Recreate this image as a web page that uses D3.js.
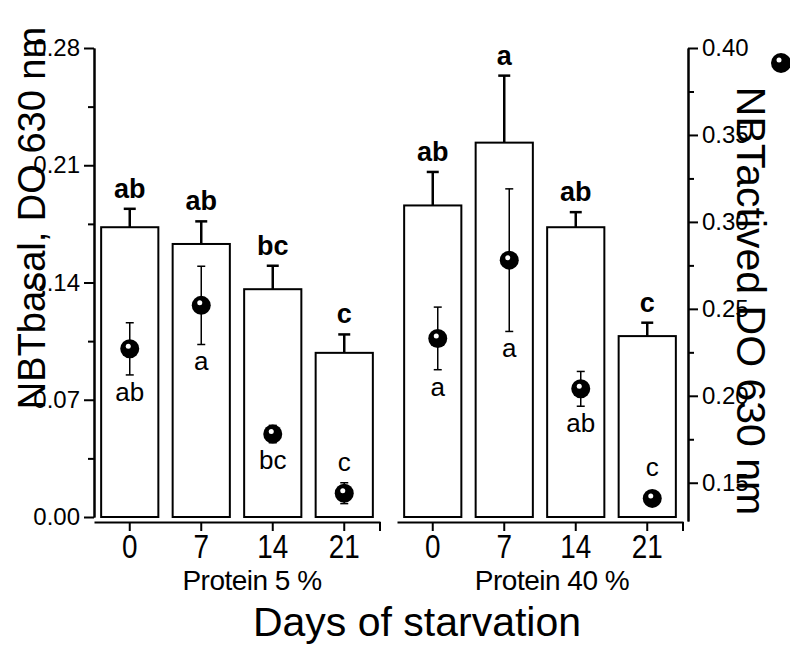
<!DOCTYPE html>
<html>
<head>
<meta charset="utf-8">
<script src="https://cdn.jsdelivr.net/npm/d3@7"></script>
<style>
  body { margin: 0; background: #fff; }
  svg text { font-family: "Liberation Sans", Arial, sans-serif; fill: #000; }
  .axis path, .axis line { stroke: #000; stroke-width: 2; }
</style>
</head>
<body>
<div id="chart"></div>
<script>
// data
let days = ['0', '7', '14', '21'];
let groups = ['Protein 5 %', 'Protein 40 %'];

// bars: NBT basal (left axis)
let basal5 = [0.173, 0.163, 0.136, 0.098];
let basal5Err = [0.011, 0.0135, 0.014, 0.011];
let basal40 = [0.186, 0.2235, 0.173, 0.108];
let basal40Err = [0.020, 0.040, 0.009, 0.008];
let basalLetters5 = ['ab', 'ab', 'bc', 'c'];
let basalLetters40 = ['ab', 'a', 'ab', 'c'];

// dots: NBT activated (right axis)
let active5 = [0.227, 0.252, 0.178, 0.144];
let active5Err = [0.015, 0.0225, 0.005, 0.006];
let active40 = [0.233, 0.278, 0.204, 0.141];
let active40Err = [0.018, 0.041, 0.010, 0.003];
let activeLetters5 = ['ab', 'a', 'bc', 'c'];
let activeLetters40 = ['a', 'a', 'ab', 'c'];
let letterSide = ['below', 'below', 'below', 'above'];

let leftTicks = [0, 0.07, 0.14, 0.21, 0.28];
let leftMinor = [0.035, 0.105, 0.175, 0.245];
let rightTicks = [0.15, 0.20, 0.25, 0.30, 0.35, 0.40];
let rightMinor = [0.175, 0.225, 0.275, 0.325, 0.375];

let panels = [
    { name: groups[0], range: [94, 380], bars: basal5, barErr: basal5Err, barLet: basalLetters5,
      dots: active5, dotErr: active5Err, dotLet: activeLetters5, dotShift: 0, labelShift: 15 },
    { name: groups[1], range: [397, 683], bars: basal40, barErr: basal40Err, barLet: basalLetters40,
      dots: active40, dotErr: active40Err, dotLet: activeLetters40, dotShift: 5, labelShift: 12 }
];

let svg = d3.select('#chart')
    .append('svg')
        .attr('width', 790)
        .attr('height', 652);

let yL = d3.scaleLinear().domain([0, 0.28]).range([517, 48]);
let yR = d3.scaleLinear().domain([0.128, 0.40]).range([521, 48]);

// left axis
svg.append('g')
    .attr('class', 'axis')
    .attr('transform', translate(94, 0))
    .call(d3.axisLeft(yL).tickValues(leftMinor).tickSize(6).tickSizeOuter(0).tickFormat(''));
let leftAxis = svg.append('g')
    .attr('class', 'axis')
    .attr('transform', translate(94, 0))
    .call(d3.axisLeft(yL).tickValues(leftTicks).tickSize(10).tickSizeOuter(0).tickPadding(4)
        .tickFormat(d3.format('.2f')));
leftAxis.selectAll('text').style('font-size', '24px');

// right axis
svg.append('g')
    .attr('class', 'axis')
    .attr('transform', translate(688, 0))
    .call(d3.axisRight(yR).tickValues(rightMinor).tickSize(6).tickSizeOuter(0).tickFormat(''));
let rightAxis = svg.append('g')
    .attr('class', 'axis')
    .attr('transform', translate(688, 0))
    .call(d3.axisRight(yR).tickValues(rightTicks).tickSize(10).tickSizeOuter(0).tickPadding(4)
        .tickFormat(d3.format('.2f')));
rightAxis.selectAll('text').style('font-size', '24px');

panels.forEach((p) => {
    let x = d3.scaleBand().domain(days).range(p.range).paddingInner(0.2).paddingOuter(0.1);
    let g = svg.append('g');

    // x axis
    let xAxis = g.append('g')
        .attr('class', 'axis')
        .attr('transform', translate(0, 522))
        .call(d3.axisBottom(x).tickSize(9).tickSizeOuter(0).tickPadding(3));
    xAxis.selectAll('text')
        .style('font-size', '34px')
        .attr('transform', 'scale(0.82,1)');
    xAxis.append('line')
        .attr('x1', x.range()[1]).attr('x2', x.range()[1])
        .attr('y1', 0).attr('y2', 9);

    let bw = x.bandwidth();
    let cx = (i) => x(days[i]) + bw / 2;

    // bar error bars (upper only)
    p.bars.forEach((v, i) => {
        g.append('line')
            .attr('x1', cx(i)).attr('x2', cx(i))
            .attr('y1', yL(v)).attr('y2', yL(v + p.barErr[i]))
            .attr('stroke', '#000').attr('stroke-width', 2.5);
        g.append('line')
            .attr('x1', cx(i) - 6).attr('x2', cx(i) + 6)
            .attr('y1', yL(v + p.barErr[i])).attr('y2', yL(v + p.barErr[i]))
            .attr('stroke', '#000').attr('stroke-width', 2.5);
    });

    // bars
    g.selectAll('.bar')
        .data(p.bars)
        .enter()
        .append('rect')
            .attr('class', 'bar')
            .attr('x', (d, i) => x(days[i]))
            .attr('y', (d) => yL(d))
            .attr('width', bw)
            .attr('height', (d) => yL(0) - yL(d))
            .attr('fill', '#fff')
            .attr('stroke', '#000')
            .attr('stroke-width', 2);

    // bar letters
    g.selectAll('.barlet')
        .data(p.barLet)
        .enter()
        .append('text')
            .attr('x', (d, i) => cx(i))
            .attr('y', (d, i) => yL(p.bars[i] + p.barErr[i]) - 11)
            .attr('text-anchor', 'middle')
            .style('font-size', '27px')
            .style('font-weight', 'bold')
            .text((d) => d);

    // dots with error bars
    p.dots.forEach((v, i) => {
        let dx = cx(i) + p.dotShift;
        let e = p.dotErr[i];
        g.append('line')
            .attr('x1', dx).attr('x2', dx)
            .attr('y1', yR(v + e)).attr('y2', yR(v - e))
            .attr('stroke', '#000').attr('stroke-width', 1.5);
        [v + e, v - e].forEach((w) => {
            g.append('line')
                .attr('x1', dx - 4).attr('x2', dx + 4)
                .attr('y1', yR(w)).attr('y2', yR(w))
                .attr('stroke', '#000').attr('stroke-width', 1.5);
        });
        g.append('circle')
            .attr('cx', dx).attr('cy', yR(v)).attr('r', 9.5)
            .attr('fill', '#000');
        g.append('circle')
            .attr('cx', dx - 1.5).attr('cy', yR(v) - 2.5).attr('r', 2.5)
            .attr('fill', '#fff');
        g.append('text')
            .attr('x', dx)
            .attr('y', letterSide[i] == 'below' ? yR(v - e) + 26 : yR(v) - 22)
            .attr('text-anchor', 'middle')
            .style('font-size', '26px')
            .text(p.dotLet[i]);
    });

    // group label
    g.append('text')
        .attr('x', (p.range[0] + p.range[1]) / 2 + p.labelShift)
        .attr('y', 590)
        .attr('text-anchor', 'middle')
        .style('font-size', '28px')
        .style('letter-spacing', '-0.5px')
        .text(p.name);
});

// x axis title
svg.append('text')
    .attr('x', 417)
    .attr('y', 636)
    .attr('text-anchor', 'middle')
    .style('font-size', '41px')
    .text('Days of starvation');

// left y axis title
svg.append('text')
    .attr('transform', translate(45, 218) + ' rotate(-90)')
    .attr('text-anchor', 'middle')
    .style('font-size', '38px')
    .text('NBTbasal, DO 630 nm');

// right y axis title
svg.append('text')
    .attr('transform', translate(737, 301) + ' rotate(90)')
    .attr('text-anchor', 'middle')
    .style('font-size', '41px')
    .text('NBTactived DO 630 nm');

// legend dot
svg.append('circle')
    .attr('cx', 781).attr('cy', 63).attr('r', 10)
    .attr('fill', '#000');
svg.append('circle')
    .attr('cx', 779).attr('cy', 60).attr('r', 2.5)
    .attr('fill', '#fff');

// helper method to make translating easier
function translate(x, y) {
    return 'translate(' + x + ',' + y + ')';
}
</script>
</body>
</html>
